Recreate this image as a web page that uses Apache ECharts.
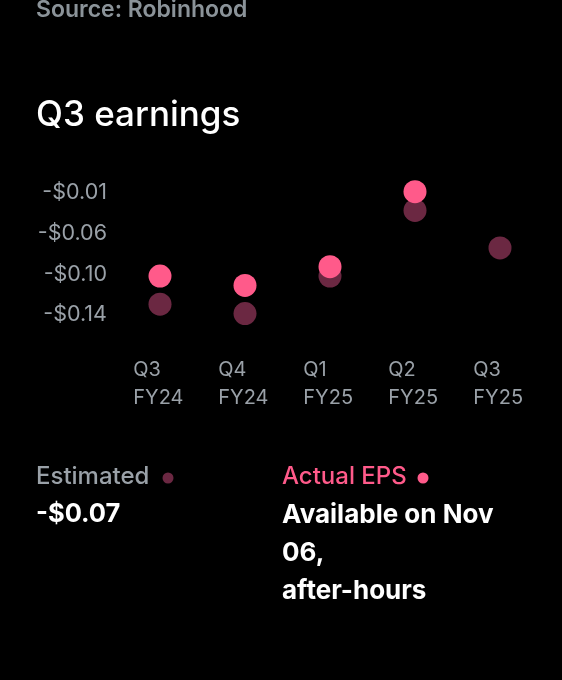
<!DOCTYPE html>
<html>
<head>
<meta charset="utf-8">
<script src="https://cdn.jsdelivr.net/npm/echarts@6/dist/echarts.min.js"></script>
<style>
html,body{margin:0;padding:0;background:#000;}
#chart{width:562px;height:680px;}
</style>
</head>
<body>
<div id="chart"></div>
<script>
var quarters = ['Q3', 'Q4', 'Q1', 'Q2', 'Q3'];
var fiscalYears = ['FY24', 'FY24', 'FY25', 'FY25', 'FY25'];
var estimatedEPS = [-0.13, -0.14, -0.10, -0.03, -0.07];
var actualEPS = [-0.10, -0.11, -0.09, -0.01, null];
var yTickLabels = ['-$0.14', '-$0.10', '-$0.06', '-$0.01'];
var sourceText = 'Source: Robinhood';
var titleText = 'Q3 earnings';
var actualNote = ['Available on Nov', '06,', 'after-hours'];

var FONT = 'Inter, "Noto Sans", sans-serif';
var PINK = '#ff5a8a';
var MAROON = '#6b2842';
var GRAY = '#9aa1a8';

var categories = quarters.map(function (q, i) { return q + '\n' + fiscalYears[i]; });
var lastEst = estimatedEPS[estimatedEPS.length - 1];
var estText = (lastEst < 0 ? '-' : '') + '$' + Math.abs(lastEst).toFixed(2);

var chart = echarts.init(document.getElementById('chart'), null, {renderer: 'canvas'});
chart.setOption({
  backgroundColor: '#000',
  animation: false,
  grid: [
    {left: 117.5, width: 425, top: 182.3, height: 140.6},
    {left: 115, width: 10, top: 192.7, height: 122.3},
    {left: 133.3, width: 340, top: 340, height: 10}
  ],
  xAxis: [
    {gridIndex: 0, type: 'category', data: categories, boundaryGap: true, show: false},
    {gridIndex: 1, type: 'value', show: false},
    {gridIndex: 2, type: 'category', data: categories, boundaryGap: false,
      axisLine: {show: false}, axisTick: {show: false}, splitLine: {show: false},
      axisLabel: {show: true, interval: 0, align: 'left', verticalAlign: 'top', margin: 6,
        color: GRAY, fontFamily: FONT, fontSize: 20, lineHeight: 28}}
  ],
  yAxis: [
    {gridIndex: 0, type: 'value', min: -0.15, max: 0, show: false},
    {gridIndex: 1, type: 'category', data: yTickLabels, boundaryGap: false,
      axisLine: {show: false}, axisTick: {show: false}, splitLine: {show: false},
      axisLabel: {show: true, interval: 0, align: 'right', margin: 8,
        color: GRAY, fontFamily: FONT, fontSize: 21.5}},
    {gridIndex: 2, type: 'value', show: false}
  ],
  series: [
    {name: 'Estimated', type: 'scatter', xAxisIndex: 0, yAxisIndex: 0, data: estimatedEPS,
      symbol: 'circle', symbolSize: 23, itemStyle: {color: MAROON, opacity: 1}, z: 2},
    {name: 'Actual EPS', type: 'scatter', xAxisIndex: 0, yAxisIndex: 0, data: actualEPS,
      symbol: 'circle', symbolSize: 23, itemStyle: {color: PINK, opacity: 1}, z: 3}
  ],
  graphic: [
    {type: 'text', left: 36, top: -1, style: {text: sourceText, fill: '#8b9399', font: '600 23px ' + FONT}},
    {type: 'text', x: 36, y: 115, style: {text: titleText, fill: '#ffffff', font: '500 35px ' + FONT, verticalAlign: 'middle'}},
    {type: 'text', x: 36, y: 477, style: {text: 'Estimated', fill: GRAY, font: '500 24px ' + FONT, verticalAlign: 'middle'}},
    {type: 'circle', shape: {cx: 168, cy: 478, r: 5.5}, style: {fill: MAROON}},
    {type: 'text', x: 36, y: 514, style: {text: estText, fill: '#ffffff', font: '700 25.5px ' + FONT, verticalAlign: 'middle'}},
    {type: 'text', x: 282, y: 477, style: {text: 'Actual EPS', fill: PINK, font: '500 24px ' + FONT, verticalAlign: 'middle'}},
    {type: 'circle', shape: {cx: 423, cy: 478, r: 5.5}, style: {fill: PINK}},
    {type: 'text', x: 282, y: 515, style: {text: actualNote[0], fill: '#ffffff', font: '700 26px ' + FONT, verticalAlign: 'middle'}},
    {type: 'text', x: 282, y: 553, style: {text: actualNote[1], fill: '#ffffff', font: '700 26px ' + FONT, verticalAlign: 'middle'}},
    {type: 'text', x: 282, y: 591, style: {text: actualNote[2], fill: '#ffffff', font: '700 26px ' + FONT, verticalAlign: 'middle'}}
  ]
});
</script>
</body>
</html>
